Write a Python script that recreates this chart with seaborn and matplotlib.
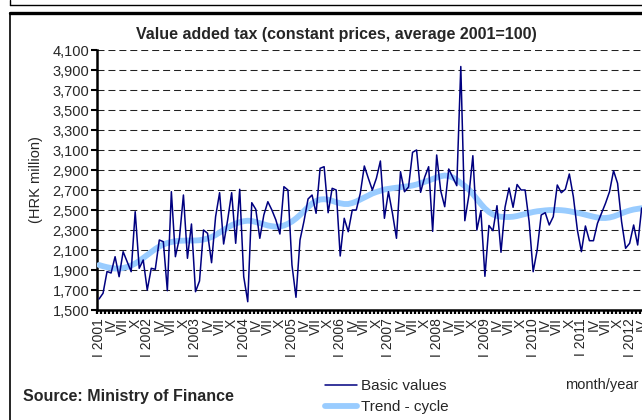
import matplotlib
matplotlib.use("Agg")
import matplotlib.pyplot as plt
from matplotlib.lines import Line2D
from matplotlib.ticker import FixedLocator, FuncFormatter
import pandas as pd
import seaborn as sns

# monthly values, Jan 2001 - Apr 2012 (HRK million)
basic_values = [
    1610, 1667, 1885, 1870, 2033, 1833, 2083, 1983, 1883, 2483, 1917, 2000,  # 2001
    1700, 1917, 1907, 2200, 2183, 1693, 2683, 2033, 2217, 2650, 2017, 2360,  # 2002
    1683, 1790, 2300, 2267, 1973, 2433, 2673, 2160, 2400, 2673, 2167, 2707,  # 2003
    1833, 1583, 2573, 2507, 2217, 2450, 2583, 2500, 2400, 2260, 2733, 2700,  # 2004
    1950, 1627, 2200, 2390, 2610, 2650, 2467, 2917, 2933, 2473, 2717, 2700,  # 2005
    2040, 2417, 2283, 2500, 2500, 2667, 2940, 2817, 2700, 2817, 2990, 2417,  # 2006
    2683, 2467, 2217, 2883, 2683, 2730, 3077, 3100, 2677, 2827, 2933, 2287,  # 2007
    3050, 2693, 2533, 2910, 2827, 2743, 3935, 2393, 2643, 3043, 2300, 2493,  # 2008
    1837, 2345, 2293, 2543, 2077, 2527, 2720, 2527, 2755, 2700, 2700, 2383,  # 2009
    1883, 2100, 2450, 2473, 2350, 2433, 2750, 2673, 2707, 2860, 2633, 2300,  # 2010
    2083, 2340, 2193, 2193, 2367, 2467, 2567, 2683, 2893, 2767, 2383, 2117,  # 2011
    2167, 2350, 2150, 2520,                                                  # 2012
]
trend_cycle = [
    1950, 1938, 1928, 1920, 1915, 1915, 1920, 1930, 1945, 1965, 1990, 2020,
    2050, 2080, 2110, 2135, 2155, 2170, 2180, 2188, 2192, 2194, 2195, 2195,
    2195, 2198, 2205, 2215, 2230, 2250, 2275, 2300, 2325, 2348, 2365, 2378,
    2388, 2393, 2390, 2380, 2368, 2355, 2345, 2338, 2333, 2335, 2345, 2362,
    2385, 2415, 2450, 2490, 2530, 2565, 2590, 2605, 2608, 2603, 2592, 2578,
    2567, 2560, 2560, 2570, 2585, 2605, 2625, 2645, 2665, 2680, 2693, 2705,
    2712, 2718, 2723, 2728, 2733, 2738, 2745, 2755, 2768, 2782, 2795, 2810,
    2825, 2838, 2845, 2840, 2825, 2800, 2770, 2740, 2705, 2660, 2610, 2560,
    2515, 2480, 2455, 2440, 2432, 2430, 2430, 2433, 2440, 2450, 2460, 2470,
    2480, 2487, 2492, 2496, 2499, 2500, 2500, 2498, 2494, 2488, 2480, 2472,
    2463, 2453, 2443, 2433, 2425, 2420, 2420, 2425, 2435, 2450, 2467, 2482,
    2495, 2505, 2512, 2518,
]
years = list(range(2001, 2013))
quarter_labels = ["I", "IV", "VII", "X"]

n = len(basic_values)
df = pd.DataFrame({"t": range(n), "basic": basic_values, "trend": trend_cycle})

# tick labels every quarter
tick_pos, tick_lab = [], []
for i in range(n):
    q, m = divmod(i % 12, 3)
    if m == 0:
        tick_pos.append(i)
        lab = quarter_labels[q]
        tick_lab.append(f"{lab} {years[i // 12]}" if q == 0 else lab)

sns.set_theme(style="white")
plt.rcParams["font.family"] = ["Liberation Sans", "DejaVu Sans"]

W, H = 642, 420
fig = plt.figure(figsize=(W / 100, H / 100), dpi=100)
ax = fig.add_axes([97 / W, 110 / H, 546.7 / W, 260 / H])

sns.lineplot(data=df, x="t", y="trend", ax=ax, color="#99ccff", lw=4.2,
             label="Trend - cycle", zorder=3)
sns.lineplot(data=df, x="t", y="basic", ax=ax, color="#000080", lw=1.1,
             label="Basic values", zorder=4)

ax.set_xlim(-0.5, n - 0.5)
ax.set_ylim(1500, 4100)
ax.set_yticks(range(1500, 4101, 200))
ax.yaxis.set_major_formatter(FuncFormatter(lambda v, _: f"{v:,.0f}"))
ax.grid(axis="y", color="#222222", lw=0.75, linestyle=(0, (6.7, 3.8)), zorder=1)
ax.grid(axis="x", visible=False)

ax.set_xticks(tick_pos)
ax.set_xticklabels(tick_lab, rotation=90, fontsize=10)
ax.xaxis.set_minor_locator(FixedLocator([i - 0.5 for i in range(n + 1)]))
ax.tick_params(axis="x", which="major", length=0, pad=6)
ax.tick_params(axis="x", which="minor", bottom=True, length=3, width=1.6,
               color="black")
ax.tick_params(axis="y", left=True, length=4, width=1.5, color="black",
               labelsize=10.5, pad=1.5)

for s in ["top", "right"]:
    ax.spines[s].set_visible(False)
for s in ["left", "bottom"]:
    ax.spines[s].set_color("black")
    ax.spines[s].set_linewidth(1.8)
ax.set_xlabel("")
ax.set_ylabel("")
ax.get_legend().remove()

handles, labels = ax.get_legend_handles_labels()
fig.legend(handles[::-1], labels[::-1], loc="upper left",
           bbox_to_anchor=(325 / W, 1 - 379 / H), frameon=False,
           fontsize=11, handlelength=2.1, handletextpad=0.25,
           labelspacing=0.45, borderpad=0, borderaxespad=0)

fig.text(336 / W, 1 - 34 / H, "Value added tax (constant prices, average 2001=100)",
         ha="center", va="center", fontsize=11.5, weight="bold")
fig.text(36 / W, 1 - 180 / H, "(HRK million)", rotation=90,
         ha="center", va="center", fontsize=10.5)
fig.text(23 / W, 1 - 397 / H, "Source: Ministry of Finance",
         ha="left", va="center", fontsize=11.5, weight="bold")
fig.text(565 / W, 1 - 385 / H, "month/year", ha="left", va="center", fontsize=10.5)

# frame around the chart area
fig.add_artist(Line2D([10 / W, 1], [1 - 5 / H] * 2, color="black", lw=1))
fig.add_artist(Line2D([10 / W] * 2, [1, 1 - 5 / H], color="black", lw=1))
fig.add_artist(Line2D([10 / W, 1], [1 - 13 / H] * 2, color="black", lw=2.4))
fig.add_artist(Line2D([10 / W] * 2, [1 - 13 / H, 0], color="black", lw=1.2))

fig.savefig("out.png", dpi=100)
